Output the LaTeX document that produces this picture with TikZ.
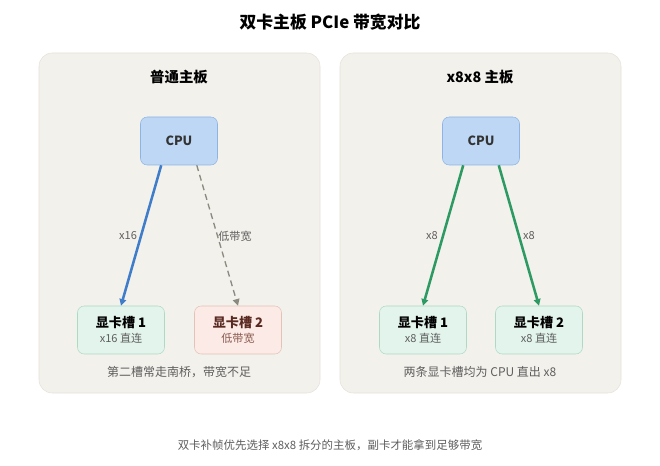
\documentclass[tikz,border=0pt]{standalone}
\usepackage{fontspec}
\setmainfont{Noto Sans CJK SC}
\usepackage{tikz}
\usetikzlibrary{arrows.meta}

\definecolor{panelbg}{HTML}{F3F1EC}
\definecolor{panelline}{HTML}{E6E2DA}
\definecolor{cpubg}{HTML}{BDD7F5}
\definecolor{cpuline}{HTML}{8FB4E3}
\definecolor{okbg}{HTML}{E2F4EC}
\definecolor{okline}{HTML}{AEDAC4}
\definecolor{lowbg}{HTML}{FBEAE5}
\definecolor{lowline}{HTML}{E3C2B8}
\definecolor{bluearrow}{HTML}{3F7DCB}
\definecolor{greenarrow}{HTML}{2E9A63}
\definecolor{greyarrow}{HTML}{8C8A80}
\definecolor{textgrey}{HTML}{5E5E5E}
\definecolor{lowtitle}{HTML}{5A2A22}
\definecolor{lowtext}{HTML}{8A5A50}

\begin{document}
\begin{tikzpicture}[x=0.75pt,y=-0.75pt,
  panel/.style={draw=panelline,fill=panelbg,rounded corners=10pt},
  cpu/.style={rectangle,draw=cpuline,fill=cpubg,rounded corners=5pt,
    minimum width=57.75pt,minimum height=36pt,font=\bfseries\fontsize{9.5}{11}\selectfont,text=black!80},
  slot/.style={rectangle,draw=okline,fill=okbg,rounded corners=5pt,
    minimum width=65.25pt,minimum height=36pt,align=center},
  lowslot/.style={slot,draw=lowline,fill=lowbg},
  link/.style={line width=1.9pt,-{Triangle[length=5pt,width=5pt]}},
  lbl/.style={font=\fontsize{8.3}{10}\selectfont,text=textgrey},
  caption/.style={font=\fontsize{9}{11}\selectfont,text=textgrey}]
\useasboundingbox[fill=white] (0,0) rectangle (660,466);

\node[font=\bfseries\fontsize{12.6}{14}\selectfont] (title) at (330,22) {双卡主板 PCIe 带宽对比};

% left board
\draw[panel] (39,53) rectangle (320,393);
\node[font=\bfseries\fontsize{10.8}{13}\selectfont] (lefttitle) at (179,77) {普通主板};
\node[cpu] (leftcpu) at (179,141) {CPU};
\node[slot] (leftslot1) at (121,330) {{\bfseries\fontsize{9.8}{11}\selectfont 显卡槽 1}\\[-1pt]{\fontsize{8.3}{10}\selectfont\color{textgrey}x16 直连}};
\node[lowslot] (leftslot2) at (238,330) {{\bfseries\fontsize{9.8}{11}\selectfont\color{lowtitle} 显卡槽 2}\\[-1pt]{\fontsize{8.3}{10}\selectfont\color{lowtext}低带宽}};
\node[caption] (leftnote) at (179,372) {第二槽常走南桥，带宽不足};
\draw[link,bluearrow] (leftcpu.south west) ++(21,0) coordinate (a1) -- (leftslot1.north);
\draw[line width=1pt,dash pattern=on 4.5pt off 3pt,greyarrow,-{Triangle[length=5pt,width=5pt]}] (leftcpu.south east) ++(-21,0) coordinate (a2) -- (leftslot2.north);
\node[lbl] (x16) at (128,236) {x16};
\node[lbl] (low) at (235,236) {低带宽};

% right board
\draw[panel] (340,53) rectangle (621,393);
\node[font=\bfseries\fontsize{10.8}{13}\selectfont] (righttitle) at (480,77) {x8x8 主板};
\node[cpu] (rightcpu) at (481,141) {CPU};
\node[slot] (rightslot1) at (423,330) {{\bfseries\fontsize{9.8}{11}\selectfont 显卡槽 1}\\[-1pt]{\fontsize{8.3}{10}\selectfont\color{textgrey}x8 直连}};
\node[slot] (rightslot2) at (539,330) {{\bfseries\fontsize{9.8}{11}\selectfont 显卡槽 2}\\[-1pt]{\fontsize{8.3}{10}\selectfont\color{textgrey}x8 直连}};
\node[caption] (rightnote) at (480,372) {两条显卡槽均为 CPU 直出 x8};
\draw[link,greenarrow] (rightcpu.south west) ++(21,0) coordinate (b1) -- (rightslot1.north);
\draw[link,greenarrow] (rightcpu.south east) ++(-21,0) coordinate (b2) -- (rightslot2.north);
\node[lbl] (x8a) at (432,236) {x8};
\node[lbl] (x8b) at (529,236) {x8};

\node[font=\fontsize{8.6}{10}\selectfont,text=textgrey] (bottom) at (330,445) {双卡补帧优先选择 x8x8 拆分的主板，副卡才能拿到足够带宽};
\end{tikzpicture}
\end{document}
